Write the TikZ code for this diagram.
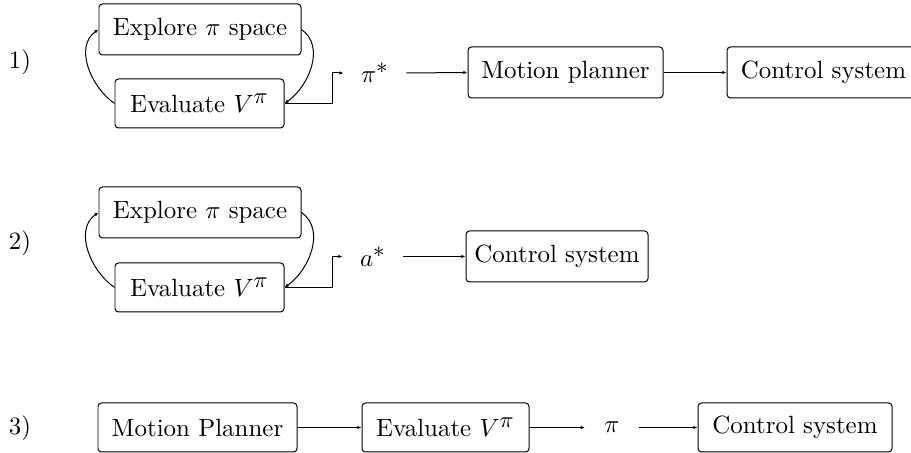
\documentclass[tikz,border=0pt]{standalone}
\usetikzlibrary{arrows.meta}
\DeclareMathSizes{10}{10}{9}{7}
\newcommand{\pxu}{0.401pt}
\begin{document}
\begin{tikzpicture}[x=\pxu,y=-\pxu,
  box/.style={draw, rounded corners=1.4pt, inner sep=0pt, minimum height=51*\pxu},
  lbl/.style={inner sep=0pt, inner xsep=17*\pxu, minimum height=8pt},
  arr/.style={-{Latex[length=1.7pt,width=1.4pt]}}]
\useasboundingbox (0,0) rectangle (911,453);
\clip (0,0) rectangle (911,453);
% Row 1
\node (n1) at (20,62) {1)};
\node[box, minimum width=202*\pxu] (ex1) at (200,29.5) {Explore $\pi$ space};
\node[box, minimum width=169*\pxu, minimum height=49*\pxu] (ev1) at (199.5,103.5) {Evaluate $V^{\pi}$};
\node[lbl] (ps1) at (375,73) {$\pi^*$};
\node[box, minimum width=195*\pxu] (mp1) at (565.5,72.5) {Motion planner};
\node[box, minimum width=193*\pxu] (cs1) at (823.5,72.5) {Control system};
\draw[arr] (ev1.west) to[out=145,in=215] (ex1.west);
\draw[arr] (ex1.east) to[out=-35,in=35] (ev1.east);
\draw[arr] (ev1.east) -- (332,103.5) |- (ps1.west);
\draw[arr] (ps1.east) -- (mp1.west);
\draw[arr] (mp1.east) -- (cs1.west);
% Row 2
\node (n2) at (20,243) {2)};
\node[box, minimum width=202*\pxu] (ex2) at (200,212.5) {Explore $\pi$ space};
\node[box, minimum width=169*\pxu, minimum height=49*\pxu] (ev2) at (199.5,287.5) {Evaluate $V^{\pi}$};
\node[lbl] (as2) at (373,256.5) {$a^*$};
\node[box, minimum width=182*\pxu] (cs2) at (557,256.5) {Control system};
\draw[arr] (ev2.west) to[out=145,in=215] (ex2.west);
\draw[arr] (ex2.east) to[out=-35,in=35] (ev2.east);
\draw[arr] (ev2.east) -- (332,287.5) |- (as2.west);
\draw[arr] (as2.east) -- (cs2.west);
% Row 3
\node (n3) at (20,428) {3)};
\node[box, minimum width=199*\pxu, minimum height=49*\pxu] (mp3) at (197.5,427.5) {Motion Planner};
\node[box, minimum width=167*\pxu, minimum height=49*\pxu] (ev3) at (445.5,427.5) {Evaluate $V^{\pi}$};
\node[lbl, inner xsep=19*\pxu] (pi3) at (612,427.5) {$\pi$};
\node[box, minimum width=194*\pxu, minimum height=49*\pxu] (cs3) at (795,427.5) {Control system};
\draw[arr] (mp3.east) -- (ev3.west);
\draw[arr] (ev3.east) -- (pi3.west);
\draw[arr] (pi3.east) -- (cs3.west);
\end{tikzpicture}
\end{document}
